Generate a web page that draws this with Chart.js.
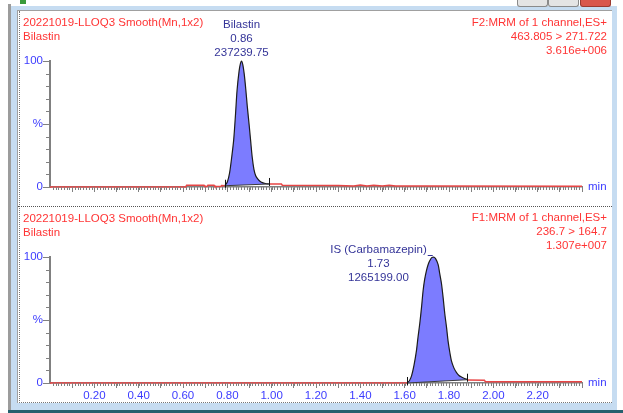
<!DOCTYPE html>
<html>
<head>
<meta charset="utf-8">
<script src="https://cdn.jsdelivr.net/npm/chart.js@4.4.1/dist/chart.umd.min.js"></script>
<style>
  body { margin: 0; width: 623px; height: 413px; background: #fff; position: relative; overflow: hidden;
         font-family: "Liberation Sans", Arial, sans-serif; }
  .abs { position: absolute; }
  #grayBar { left: 8px; top: 4px; width: 3px; height: 407px; background: #9c9c9c; }
  #blueFrame { left: 11px; top: 6px; width: 606px; height: 404px; background: #c6dcf1; }
  #tealLine { left: 8px; top: 410px; width: 615px; height: 3px; background: #24606e; }
  #panel { left: 17px; top: 10px; width: 594px; height: 392px; background: #fff;
           border-left: 1px solid #a0a0a0; border-top: 1px solid #a0a0a0; }
  #inner { left: 1px; top: 0; width: 592px; height: 391px; border-left: 1px dotted #777; border-bottom: 1px dotted #777; }
  #divider { left: 18px; top: 206px; width: 594px; height: 0; border-top: 1px dotted #555; }
  canvas { position: absolute; left: 18px; }
  #topChart { top: 11px; }
  #bottomChart { top: 207px; }
  .btn { top: 0; height: 6px; border: 1px solid #8a8a8a; border-top: none; border-radius: 0 0 3px 3px; background: #e4e4e4; }
  #icon { left: 20px; top: 0; width: 6px; height: 4px; background: #3a9a3a; }
  .hdr { position: absolute; color: #ff3434; font-size: 11.5px; line-height: 14px; white-space: nowrap; }
  .right { text-align: right; }
</style>
</head>
<body>
<div id="grayBar" class="abs"></div>
<div id="blueFrame" class="abs"></div>
<div id="tealLine" class="abs"></div>
<div id="icon" class="abs"></div>
<div class="abs btn" style="left:517px;width:29px;"></div>
<div class="abs btn" style="left:548px;width:29px;"></div>
<div class="abs btn" style="left:580px;width:29px;background:#d9574c;border-color:#9a3a30;"></div>
<div id="panel" class="abs"><div id="inner" class="abs"></div></div>
<canvas id="topChart" width="594" height="196"></canvas>
<canvas id="bottomChart" width="594" height="196"></canvas>
<div id="divider" class="abs"></div>

<div class="hdr" style="left:23px;top:15px;">20221019-LLOQ3 Smooth(Mn,1x2)<br>Bilastin</div>
<div class="hdr right" style="right:16px;top:15px;">F2:MRM of 1 channel,ES+<br>463.805 &gt; 271.722<br>3.616e+006</div>
<div class="hdr" style="left:23px;top:211px;">20221019-LLOQ3 Smooth(Mn,1x2)<br>Bilastin</div>
<div class="hdr right" style="right:16px;top:210px;">F1:MRM of 1 channel,ES+<br>236.7 &gt; 164.7<br>1.307e+007</div>

<script>
// axis ticks
const xTickValues = [0.2, 0.4, 0.6, 0.8, 1.0, 1.2, 1.4, 1.6, 1.8, 2.0, 2.2];
const xTickLabels = ['0.20', '0.40', '0.60', '0.80', '1.00', '1.20', '1.40', '1.60', '1.80', '2.00', '2.20'];
const yTickValues = [0, 50, 100];
const yTickLabels = ['0', '%', '100'];

// top trace: Bilastin, F2 463.805 > 271.722 (time in min, intensity in %)
const topBeforeT = [0.00, 0.612, 0.616, 0.695, 0.699, 0.708, 0.712, 0.740, 0.744, 0.770, 0.774, 0.788];
const topBeforeY = [0, 0, 1.3, 1.3, 0.3, 0.3, 1.3, 1.3, 0.3, 0.3, 1.2, 1.0];
const topPeakT = [0.788, 0.800, 0.810, 0.820, 0.829, 0.837, 0.844, 0.853, 0.859, 0.864, 0.870, 0.876, 0.883, 0.890, 0.898, 0.905, 0.912, 0.920, 0.928, 0.937, 0.947, 0.958, 0.972, 0.988];
const topPeakY = [1.0, 4, 11, 24, 38, 58, 77, 92, 98, 100, 97, 90, 78, 64, 50, 37, 24, 14, 9, 6.5, 4.6, 3.5, 2.8, 2.4];
const topAfterT = [0.988, 1.044, 1.048, 1.30, 1.37, 1.40, 1.43, 1.46, 1.50, 1.53, 1.56, 1.70, 2.40];
const topAfterY = [2.4, 2.4, 1.4, 1.2, 0.8, 1.5, 0.8, 1.4, 0.7, 1.3, 0.8, 0.7, 0.6];
const topBaseT = [0.788, 0.988];
const topBaseY = [1.0, 2.4];
const topPeakLabels = ['Bilastin', '0.86', '237239.75'];

// bottom trace: IS (Carbamazepin), F1 236.7 > 164.7
const botBeforeT = [0.00, 1.611];
const botBeforeY = [0, 0];
const botPeakT = [1.611, 1.622, 1.631, 1.642, 1.653, 1.660, 1.668, 1.676, 1.683, 1.690, 1.698, 1.706, 1.713, 1.722, 1.731, 1.740, 1.751, 1.758, 1.766, 1.774, 1.781, 1.789, 1.796, 1.804, 1.811, 1.822, 1.834, 1.845, 1.856, 1.870, 1.882];
const botPeakY = [0, 2, 5.6, 14, 25.5, 36, 47, 60, 73, 82, 89, 94, 97, 99.5, 100, 98.5, 94, 87, 79, 67, 55, 44, 33, 24, 17.5, 12, 8.2, 6, 4.8, 3.6, 2.8];
const botAfterT = [1.882, 1.960, 1.964, 2.40];
const botAfterY = [2.4, 2.1, 1.0, 1.0];
const botBaseT = [1.611, 1.882];
const botBaseY = [0, 2.6];
const botPeakLabels = ['IS (Carbamazepin)', '1.73', '1265199.00'];

const FONT = '"Liberation Sans", Arial, sans-serif';
const AXIS_BLUE = '#3c3cff';

function pts(ts, ys) {
  return ts.map((t, i) => ({ x: t, y: ys[i] }));
}

const extras = {
  id: 'extras',
  afterDraw(chart, args, opts) {
    const ctx = chart.ctx, xs = chart.scales.x, ys = chart.scales.y, area = chart.chartArea;
    ctx.save();
    // minor ticks
    ctx.strokeStyle = '#808080';
    ctx.lineWidth = 1;
    ctx.beginPath();
    for (let i = 1; i <= 192; i++) {
      const px = Math.round(xs.getPixelForValue(i * 0.0125)) + 0.5;
      ctx.moveTo(px, area.bottom);
      ctx.lineTo(px, area.bottom + 3);
    }
    for (let v = 10; v < 100; v += 10) {
      if (v === 50) continue;
      const py = Math.round(ys.getPixelForValue(v)) + 0.5;
      ctx.moveTo(area.left - 4, py);
      ctx.lineTo(area.left, py);
    }
    ctx.stroke();

    // integration markers
    const base = chart.getDatasetMeta(opts.baseIndex).data;
    ctx.strokeStyle = '#111';
    ctx.beginPath();
    base.forEach(p => {
      const px = Math.round(p.x) + 0.5;
      ctx.moveTo(px, p.y + 2);
      ctx.lineTo(px, p.y - 6);
    });
    ctx.stroke();

    // "min"
    ctx.font = '11.5px ' + FONT;
    ctx.fillStyle = AXIS_BLUE;
    ctx.textAlign = 'left';
    ctx.textBaseline = 'middle';
    ctx.fillText('min', area.right + 6, area.bottom);

    // peak labels
    const peak = chart.getDatasetMeta(opts.peakIndex).data;
    let apex = peak[0];
    peak.forEach(p => { if (p.y < apex.y) apex = p; });
    ctx.fillStyle = '#343498';
    ctx.textAlign = 'center';
    const n = opts.labels.length;
    if (opts.side === 'left') {
      const widest = Math.max(...opts.labels.map(s => ctx.measureText(s).width));
      const cx = apex.x - 7 - widest / 2;
      opts.labels.forEach((s, i) => ctx.fillText(s, cx, apex.y - 7 + i * 14));
      const w0 = ctx.measureText(opts.labels[0]).width;
      ctx.strokeStyle = '#343498';
      ctx.beginPath();
      ctx.moveTo(cx + w0 / 2 + 1, Math.round(apex.y - 2) + 0.5);
      ctx.lineTo(apex.x - 1, Math.round(apex.y - 2) + 0.5);
      ctx.stroke();
    } else {
      opts.labels.forEach((s, i) => ctx.fillText(s, apex.x, apex.y - 8 - (n - 1 - i) * 14));
    }
    ctx.restore();
  }
};

function makeChart(id, series, labels, side, showXLabels) {
  const red = '#e84646';
  const ctx = document.getElementById(id).getContext('2d');
  return new Chart(ctx, {
    type: 'line',
    data: {
      datasets: [
        { data: series.before, borderColor: red, borderWidth: 1.5, pointRadius: 0, fill: false, order: 1, clip: false },
        { data: series.peak, borderColor: '#1c1c1c', borderWidth: 1.2, pointRadius: 0, tension: 0.3,
          fill: 3, backgroundColor: '#7c7cff', order: 2, clip: false },
        { data: series.after, borderColor: red, borderWidth: 1.5, pointRadius: 0, fill: false, order: 1, clip: false },
        { data: series.base, borderColor: '#3a3a3a', borderWidth: 1, pointRadius: 0, fill: false, order: 0, clip: false }
      ]
    },
    options: {
      responsive: false,
      animation: false,
      events: [],
      layout: { padding: { top: 50, right: 30, left: 0, bottom: 0 } },
      plugins: {
        legend: { display: false },
        tooltip: { enabled: false },
        extras: { labels: labels, side: side, peakIndex: 1, baseIndex: 3 }
      },
      scales: {
        x: {
          type: 'linear', min: 0, max: 2.4,
          border: { display: true, color: '#808080', width: 1.5 },
          grid: { drawOnChartArea: false, drawTicks: true, tickLength: 5, tickColor: '#808080' },
          afterBuildTicks(scale) {
            const t = [];
            for (let i = 1; i <= 24; i++) t.push({ value: i / 10 });
            scale.ticks = t;
          },
          afterFit(scale) { scale.height = 20; },
          ticks: {
            autoSkip: false, maxRotation: 0, minRotation: 0, padding: 1,
            color: AXIS_BLUE, font: { family: FONT, size: 11.5 },
            callback(value) {
              if (!showXLabels) return '';
              const idx = xTickValues.findIndex(v => Math.abs(v - value) < 1e-6);
              return idx >= 0 ? xTickLabels[idx] : '';
            }
          }
        },
        y: {
          min: 0, max: 100,
          border: { display: true, color: '#808080', width: 2 },
          grid: { drawOnChartArea: false, drawTicks: true, tickLength: 7, tickColor: '#808080' },
          afterBuildTicks(scale) { scale.ticks = yTickValues.map(v => ({ value: v })); },
          afterFit(scale) { scale.width = 32; },
          ticks: {
            padding: 0, color: AXIS_BLUE, font: { family: FONT, size: 11.5 },
            callback(value) {
              const idx = yTickValues.indexOf(value);
              return idx >= 0 ? yTickLabels[idx] : '';
            }
          }
        }
      }
    },
    plugins: [extras]
  });
}

makeChart('topChart', {
  before: pts(topBeforeT, topBeforeY),
  peak: pts(topPeakT, topPeakY),
  after: pts(topAfterT, topAfterY),
  base: pts(topBaseT, topBaseY)
}, topPeakLabels, 'center', false);

makeChart('bottomChart', {
  before: pts(botBeforeT, botBeforeY),
  peak: pts(botPeakT, botPeakY),
  after: pts(botAfterT, botAfterY),
  base: pts(botBaseT, botBaseY)
}, botPeakLabels, 'left', true);
</script>
</body>
</html>
